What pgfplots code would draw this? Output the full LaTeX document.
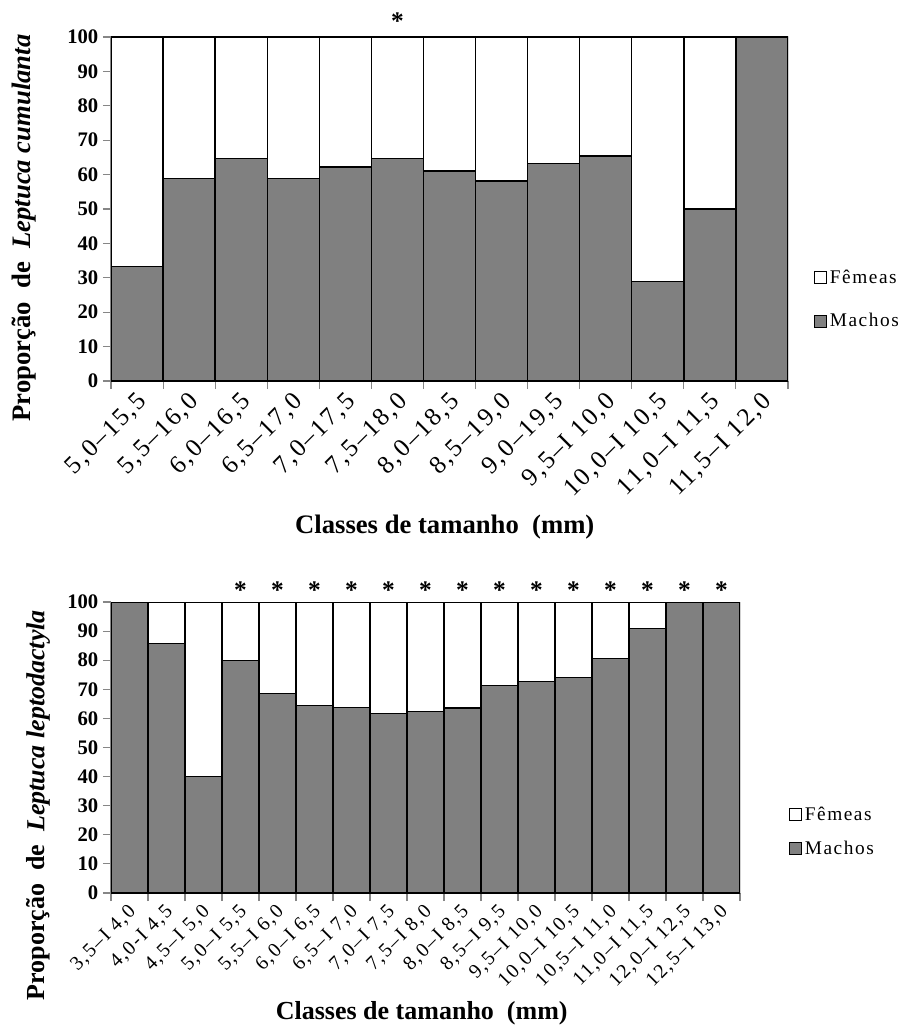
\documentclass[border=0pt]{standalone}
\usepackage{fontspec}
\setmainfont{Liberation Serif}
\newfontfamily\tickfont[LetterSpace=8]{Liberation Serif}
\usepackage{pgfplots}
\usepackage{pgfplotstable}
\pgfplotsset{compat=1.18}

\definecolor{macho}{RGB}{128,128,128}
\definecolor{axgray}{RGB}{134,134,134}

\pgfplotstableread{
x m f
0 33.3 66.7
1 58.8 41.2
2 64.6 35.4
3 58.8 41.2
4 62.2 37.8
5 64.6 35.4
6 61.0 39.0
7 58.1 41.9
8 63.3 36.7
9 65.4 34.6
10 29.0 71.0
11 50.0 50.0
12 100 0
}\topdata

\pgfplotstableread{
x y
5 100
}\topstar

\pgfplotstableread{
x m f
0 100 0
1 85.7 14.3
2 40.0 60.0
3 80.0 20.0
4 68.6 31.4
5 64.5 35.5
6 63.8 36.2
7 61.6 38.4
8 62.3 37.7
9 63.6 36.4
10 71.2 28.8
11 72.6 27.4
12 74.1 25.9
13 80.7 19.3
14 91.0 9.0
15 100 0
16 100 0
}\botdata

\pgfplotstableread{
x y
3 100
4 100
5 100
6 100
7 100
8 100
9 100
10 100
11 100
12 100
13 100
14 100
15 100
16 100
}\botstar

\pgfplotsset{
  common/.style={
    scale only axis,
    ybar stacked, bar width=1,
    ymin=0, ymax=100,
    axis x line*=bottom, axis y line*=left,
    axis line style={axgray, line width=0.8pt, -},
    ytick={0,10,...,100},
    tick align=outside,
    major tick length=6pt, minor tick length=6pt,
    y tick style={axgray, line width=0.8pt},
    major x tick style={draw=none},
    minor x tick style={axgray, line width=0.8pt},
    /pgf/number format/assume math mode=true,
    yticklabel style={font=\fontsize{15.5}{18}\selectfont\bfseries},
    legend image code/.code={\draw[##1, line width=0.7pt] (0pt,-4.5pt) rectangle (9pt,4.5pt);},
    reverse legend,
    legend cell align=left,
  },
  starax/.style={
    scale only axis, hide axis, clip=false,
    ymin=0, ymax=100,
  },
  mbar/.style={fill=macho, draw=black, line width=1pt},
  fbar/.style={fill=white, draw=black, line width=1pt},
  star/.style={draw=none, mark=none,
    nodes near coords={*},
    nodes near coords style={font=\fontsize{19}{20}\selectfont\bfseries, anchor=south, text=black}},
}

\begin{document}
\begin{tikzpicture}
\useasboundingbox (0,0) rectangle (672.75pt,-775.5pt);

\begin{axis}[common,
  at={(83.25pt,-27.75pt)}, anchor=north west,
  width=507.75pt, height=258pt,
  xmin=-0.5, xmax=12.5,
  xtick={0,...,12},
  minor xtick={-0.5,0.5,...,12.5},
  xticklabels={{5,0–15,5}, {5,5–16,0}, {6,0–16,5}, {6,5–17,0}, {7,0–17,5}, {7,5–18,0}, {8,0–18,5}, {8,5–19,0}, {9,0–19,5}, {9,5–I 10,0}, {10,0–I 10,5}, {11,0–I 11,5}, {11,5–I 12,0}},
  xticklabel style={rotate=45, anchor=east, yshift=-8pt, xshift=2pt, font=\tickfont\fontsize{19}{21}\selectfont},
  xlabel={\textbf{Classes de tamanho~~(mm)}},
  xlabel style={at={(axis description cs:0.493,-0.424)}, anchor=center, font=\fontsize{20}{22}\selectfont},
  ylabel={\textbf{Proporção~~de~~\textit{Leptuca cumulanta}}},
  ylabel style={at={(axis description cs:-0.1285,0.445)}, anchor=center, font=\fontsize{20}{22}\selectfont},
  legend style={at={(axis description cs:1.0325,0.237)}, anchor=west, draw=none, fill=none,
    font=\tickfont\fontsize{14.5}{16}\selectfont, row sep=17pt},
]
\addplot[mbar] table[x=x, y=m] {\topdata};
\addlegendentry{Machos}
\addplot[fbar] table[x=x, y=f] {\topdata};
\addlegendentry{Fêmeas}
\end{axis}
\begin{axis}[starax,
  at={(83.25pt,-27.75pt)}, anchor=north west,
  width=507.75pt, height=258pt,
  xmin=-0.5, xmax=12.5,
]
\addplot[star, nodes near coords style={yshift=2pt}] table[x=x, y=y] {\topstar};
\end{axis}

\begin{axis}[common,
  at={(83.25pt,-451.5pt)}, anchor=north west,
  width=471.75pt, height=218.25pt,
  xmin=-0.5, xmax=16.5,
  xtick={0,...,16},
  minor xtick={-0.5,0.5,...,16.5},
  xticklabels={{3,5–I 4,0}, {4,0-I 4,5}, {4,5–I 5,0}, {5,0–I 5,5}, {5,5–I 6,0}, {6,0–I 6,5}, {6,5–I 7,0}, {7,0–I 7,5}, {7,5–I 8,0}, {8,0–I 8,5}, {8,5–I 9,5}, {9,5–I 10,0}, {10,0–I 10,5}, {10,5–I 11,0}, {11,0–I 11,5}, {12,0–I 12,5}, {12,5–I 13,0}},
  xticklabel style={rotate=45, anchor=east, yshift=-6pt, xshift=1pt, font=\tickfont\fontsize{15}{17}\selectfont},
  xlabel={\textbf{Classes de tamanho~~(mm)}},
  xlabel style={at={(axis description cs:0.494,-0.412)}, anchor=center, font=\fontsize{19.5}{22}\selectfont},
  ylabel={\textbf{Proporção~~de~~\textit{Leptuca leptodactyla}}},
  ylabel style={at={(axis description cs:-0.116,0.302)}, anchor=center, font=\fontsize{19.5}{22}\selectfont},
  legend style={at={(axis description cs:1.0715,0.21)}, anchor=west, draw=none, fill=none,
    font=\tickfont\fontsize{14.5}{16}\selectfont, row sep=10pt},
]
\addplot[mbar] table[x=x, y=m] {\botdata};
\addlegendentry{Machos}
\addplot[fbar] table[x=x, y=f] {\botdata};
\addlegendentry{Fêmeas}
\end{axis}
\begin{axis}[starax,
  at={(83.25pt,-451.5pt)}, anchor=north west,
  width=471.75pt, height=218.25pt,
  xmin=-0.5, xmax=16.5,
]
\addplot[star, nodes near coords style={yshift=-1pt}] table[x=x, y=y] {\botstar};
\end{axis}
\end{tikzpicture}
\end{document}
